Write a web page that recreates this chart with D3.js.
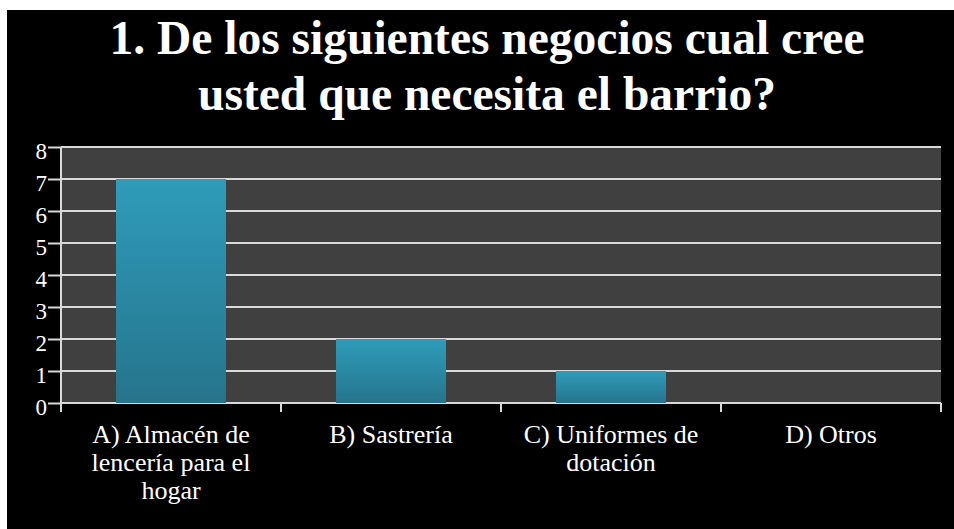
<!DOCTYPE html>
<html>
<head>
<meta charset="utf-8">
<script src="https://cdn.jsdelivr.net/npm/d3@7"></script>
<style>
  html, body { margin: 0; padding: 0; background: #ffffff; }
  svg { display: block; }
</style>
</head>
<body>
<svg id="chart" width="954" height="529"></svg>
<script>
// Survey answers: businesses the neighbourhood needs
const titleLines = ["1. De los siguientes negocios cual cree", "usted que necesita el barrio?"];
const categories = ["A) Almacén de lencería para el hogar", "B) Sastrería", "C) Uniformes de dotación", "D) Otros"];
const values = [7, 2, 1, 0];
const yTicks = [0, 1, 2, 3, 4, 5, 6, 7, 8];

// Times-style face used for every label
const FACE = '"Liberation Serif", "Times New Roman", serif';
const svg = d3.select("#chart");
const W = 954, H = 529;

// black slide panel with a thin white margin on the top and left
svg.append("rect").attr("x", 7).attr("y", 10).attr("width", W - 7).attr("height", H - 10).attr("fill", "#000");

// title
const title = svg.append("text")
  .style("font-family", FACE)
  .attr("font-weight", "bold")
  .attr("font-size", 47.5)
  .attr("fill", "#fff")
  .attr("text-anchor", "middle");
titleLines.forEach((t, i) => {
  title.append("tspan").attr("x", 487).attr("y", 54 + i * 56).text(t);
});

const plot = { left: 61, right: 941, top: 147, bottom: 403 };

const x = d3.scaleBand().domain(categories).range([plot.left, plot.right]).paddingInner(0.5).paddingOuter(0.25);
const xCat = d3.scaleBand().domain(categories).range([plot.left, plot.right]);
const y = d3.scaleLinear().domain([0, 8]).range([plot.bottom, plot.top]);

// plot background
svg.append("rect")
  .attr("x", plot.left).attr("y", plot.top)
  .attr("width", plot.right - plot.left).attr("height", plot.bottom - plot.top)
  .attr("fill", "#404040");

// horizontal gridlines
svg.append("g")
  .selectAll("line")
  .data(yTicks)
  .join("line")
  .attr("x1", plot.left).attr("x2", plot.right)
  .attr("y1", d => y(d)).attr("y2", d => y(d))
  .attr("stroke", "#d9d9d9").attr("stroke-width", 2);

// bar gradient
const defs = svg.append("defs");
const grad = defs.append("linearGradient").attr("id", "barGrad").attr("x1", 0).attr("y1", 0).attr("x2", 0).attr("y2", 1);
grad.append("stop").attr("offset", "0%").attr("stop-color", "#2f9cba");
grad.append("stop").attr("offset", "100%").attr("stop-color", "#26748c");

svg.append("g")
  .selectAll("rect")
  .data(categories.map((c, i) => ({ c, v: values[i] })).filter(d => d.v > 0))
  .join("rect")
  .attr("x", d => x(d.c))
  .attr("y", d => y(d.v))
  .attr("width", x.bandwidth())
  .attr("height", d => y(0) - y(d.v))
  .attr("fill", "url(#barGrad)");

// y axis
const yAxis = svg.append("g")
  .attr("transform", `translate(${plot.left},0)`)
  .call(d3.axisLeft(y).tickValues(yTicks).tickFormat(d3.format("d")).tickSize(13).tickPadding(1));
yAxis.attr("font-family", null).attr("font-size", null);
yAxis.select(".domain").attr("stroke", "#d9d9d9").attr("stroke-width", 2)
  .attr("d", `M0,${plot.top}V${plot.bottom + 9}`);
yAxis.selectAll(".tick line").attr("stroke", "#d9d9d9").attr("stroke-width", 2);
yAxis.selectAll(".tick text")
  .attr("fill", "#fff")
  .style("font-family", FACE)
  .attr("font-size", 23)
  .attr("dy", "0.5em");

// x axis: ticks at category boundaries
const bounds = categories.map(c => xCat(c)).concat([plot.right]);
svg.append("g")
  .selectAll("line")
  .data(bounds)
  .join("line")
  .attr("x1", d => d).attr("x2", d => d)
  .attr("y1", plot.bottom).attr("y2", plot.bottom + 9)
  .attr("stroke", "#d9d9d9").attr("stroke-width", 2);

// wrapped category labels
function wrapLines(text, width, measure) {
  const words = text.split(" ");
  const lines = [];
  let line = "";
  words.forEach(w => {
    const test = line ? line + " " + w : w;
    if (line && measure(test) > width) { lines.push(line); line = w; }
    else line = test;
  });
  if (line) lines.push(line);
  return lines;
}
const probe = svg.append("text")
  .style("font-family", FACE)
  .attr("font-size", 26)
  .attr("visibility", "hidden");
const measure = s => { probe.text(s); return probe.node().getComputedTextLength(); };

const labels = svg.append("g")
  .attr("fill", "#fff")
  .attr("text-anchor", "middle");
categories.forEach(c => {
  const cx = xCat(c) + xCat.bandwidth() / 2;
  const t = labels.append("text")
    .style("font-family", FACE)
    .attr("font-size", 26);
  wrapLines(c, 195, measure).forEach((ln, i) => {
    t.append("tspan").attr("x", cx).attr("y", 443 + i * 28).text(ln);
  });
});
probe.remove();
</script>
</body>
</html>
